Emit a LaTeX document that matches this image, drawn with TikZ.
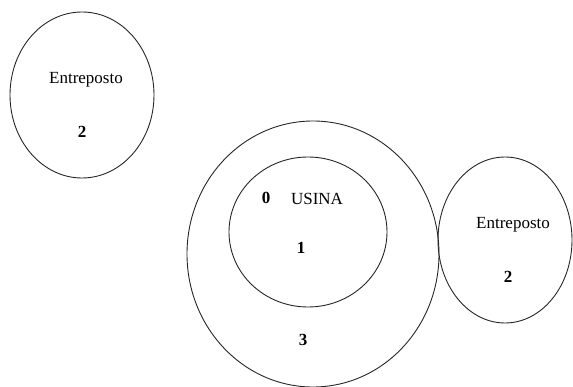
\documentclass[tikz,border=0pt]{standalone}
\usepackage{fontspec}
\setmainfont{Liberation Serif}
\usetikzlibrary{shapes.geometric}
\begin{document}
\begin{tikzpicture}[x=1pt,y=-1pt,
  region/.style={draw=black!85,line width=0.9pt,ellipse,inner sep=0pt},
  lbl/.style={font=\fontsize{17}{20}\selectfont,inner sep=0pt},
  num/.style={font=\fontsize{17}{20}\selectfont\bfseries,inner sep=0pt}]
\useasboundingbox (0,0) rectangle (573,387);
% regions
\node[region,minimum width=144pt,minimum height=166pt] (entA) at (82,95) {};
\node[region,minimum width=252pt,minimum height=266pt] (big) at (313,254) {};
\node[region,minimum width=158pt,minimum height=150pt] (usina) at (308,232) {};
\node[region,minimum width=134pt,minimum height=166pt] (entB) at (505,240) {};
% labels
\node[lbl] (tA) at (86,80) {Entreposto};
\node[num] (nA) at (82,132) {2};
\node[num] (n0) at (266,198) {0};
\node[lbl] (tU) at (317,199) {USINA};
\node[num] (n1) at (301,248) {1};
\node[num] (n3) at (303,340) {3};
\node[lbl] (tB) at (513,225) {Entreposto};
\node[num] (nB) at (508,277) {2};
\end{tikzpicture}
\end{document}
